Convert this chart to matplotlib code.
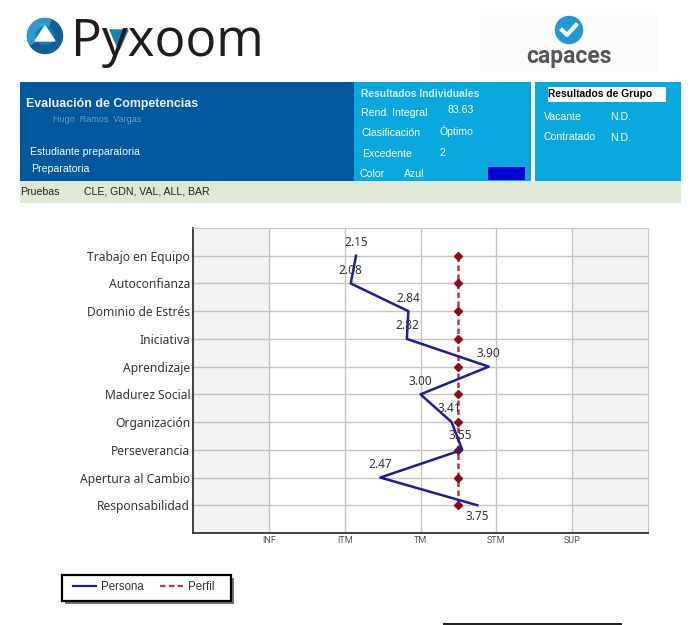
import matplotlib
matplotlib.use('Agg')
import matplotlib.pyplot as plt
from matplotlib.patches import Rectangle, Circle, Polygon, Wedge
from matplotlib.lines import Line2D

competencias = ['Trabajo en Equipo', 'Autoconfianza', 'Dominio de Estrés', 'Iniciativa', 'Aprendizaje',
                'Madurez Social', 'Organización', 'Perseverancia', 'Apertura al Cambio', 'Responsabilidad']
persona = [2.15, 2.08, 2.84, 2.82, 3.90, 3.00, 3.41, 3.55, 2.47, 3.75]
perfil = [3.5, 3.5, 3.5, 3.5, 3.5, 3.5, 3.5, 3.5, 3.5, 3.5]
niveles = ['INF', 'ITM', 'TM', 'STM', 'SUP']
niveles_pos = [1, 2, 3, 4, 5]

fig = plt.figure(figsize=(7, 6.25), dpi=100, facecolor='white')

#Everything around the chart is placed in pixels
page = fig.add_axes([0, 0, 1, 1])
page.set_xlim(0, 700)
page.set_ylim(625, 0)
page.axis('off')

def box(x0, y0, x1, y1, color, **kw):
    page.add_patch(Rectangle((x0, y0), x1 - x0, y1 - y0, facecolor=color, edgecolor='none', **kw))

def label(x, y, s, color='white', size=7.6, weight='normal', **kw):
    page.text(x, y + 1, s, color=color, fontsize=size, fontweight=weight, va='center',
              family='Liberation Sans', **kw)

#Pyxoom logo
page.add_patch(Circle((45, 36), 17.5, color='#0f5f96'))
page.add_patch(Wedge((45, 36), 17.5, 150, 290, color='#2c9ad0'))
page.add_patch(Circle((45, 36), 9, color='#1679b4'))
page.add_patch(Polygon([[45, 26], [55, 41], [35, 41]], color='white'))
page.text(71, 56, 'Pyxoom', fontsize=37, family='Open Sans', color='#1d1d20', va='baseline')
page.add_patch(Polygon([[110, 30], [128, 30], [119, 50]], color='#1c7fb4'))

#Capaces logo
box(480, 15, 658, 72, '#fbfbfb')
page.add_patch(Circle((569, 30), 13.5, color='#1f9ad6'))
page.plot([562, 567, 576], [30, 35, 25], color='white', lw=3)
page.text(569, 57, 'capaces', fontsize=16.5, fontweight='bold', family='Roboto', color='#55565a',
          ha='center', va='center')

#Header bands
box(20, 82, 354, 181, '#00589f')
box(354, 82, 531, 181, '#0ba8e0')
box(535, 82, 681, 181, '#0ba8e0')
box(20, 181, 681, 203, '#dfe8d5')
box(488, 167, 525, 180, '#0000d0')
box(548, 87, 666, 102, 'white')

label(26, 103, 'Evaluación de Competencias', size=8.9, weight='bold', color='#eef4fa')
label(53, 119, 'Hugo  Ramos  Vargas', size=6.5, color='#9dbcd9', alpha=0.7)
label(30, 151, 'Estudiante preparatoria')
label(31, 168, 'Preparatoria')
label(20, 191, 'Pruebas', color='#222222')
label(84, 191, 'CLE, GDN, VAL, ALL, BAR', color='#222222')

label(361, 93, 'Resultados Individuales', size=7.4, weight='bold', color='#d8f1fb')
label(361, 112, 'Rend. Integral')
label(447, 109, '83.63')
label(361, 132, 'Clasificación')
label(440, 130, 'Óptimo')
label(362, 153, 'Excedente')
label(439, 152, '2')
label(360, 173, 'Color')
label(404, 173, 'Azul')

label(548, 93, 'Resultados de Grupo', size=7.4, weight='bold', color='black')
label(544, 116, 'Vacante')
label(610, 116, 'N.D.')
label(544, 136, 'Contratado')
label(610, 137, 'N.D.')

#Sliver of the next box at the bottom edge
box(443, 623, 622, 625, '#222222')

#Main chart
ax = fig.add_axes([193 / 700, 1 - 533 / 625, 455 / 700, 305 / 625], zorder=2)
ax.set_xlim(0, 6)
ax.set_ylim(11, 0)
filas = list(range(1, len(competencias) + 1))
ax.axvspan(0, 1, color='#f2f2f2', zorder=0, lw=0)
ax.axvspan(5, 6, color='#f2f2f2', zorder=0, lw=0)
ax.set_xticks(niveles_pos)
ax.set_xticklabels(niveles, fontsize=6.5, color='#555555', family='Roboto')
ax.set_yticks(filas)
ax.set_yticklabels(competencias, fontsize=8.7, color='#333333', family='Noto Sans')
ax.tick_params(axis='x', length=0, pad=2)
ax.tick_params(axis='y', length=0, pad=2)
ax.grid(True, color='#c4c4c4', lw=1)
ax.set_axisbelow(True)
for s in ['top', 'right']:
    ax.spines[s].set_color('#c8c8c8')
for s in ['left', 'bottom']:
    ax.spines[s].set_color('#333333')
    ax.spines[s].set_linewidth(1.3)

ax.plot(perfil, filas, color='#c0323f', lw=1.8, ls=(0, (2.2, 1.4)), zorder=3)
ax.plot(perfil, filas, ls='none', marker='D', ms=3.6, color='#8b0a14', zorder=4)
ax.plot(persona, filas, color='#1c1c9c', lw=1.8, zorder=5)

#Offsets of the value labels, in pixels from each point
desp = [(0, -13), (0, -13), (0, -13), (0, -13), (0, -13), (0, -13), (-2, -14), (-2, -14), (0, -13), (0, 11)]
for v, f, d in zip(persona, filas, desp):
    ax.annotate('%.2f' % v, (v, f), xytext=(d[0] * 0.72, -d[1] * 0.72), textcoords='offset points',
                ha='center', va='center', fontsize=8.5, color='#333333', family='Noto Sans', zorder=6)

#Legend box is drawn by hand, the frame from legend() can't have uneven padding
box(65, 578, 234, 604, '#777777')
page.add_patch(Rectangle((62, 575), 169, 26, facecolor='white', edgecolor='black', lw=1.6))
handles = [Line2D([], [], color='#1c1c9c', lw=1.6), Line2D([], [], color='#c0323f', lw=1.6, ls=(0, (2.5, 1.5)))]
leg = fig.legend(handles, ['Persona', 'Perfil'], loc='center left', bbox_to_anchor=(73 / 700, 1 - 587 / 625),
                 borderaxespad=0, ncol=2, frameon=False, prop={'family': 'Liberation Sans', 'size': 8.3},
                 labelcolor='#333333', handlelength=2, handletextpad=0.43, columnspacing=1.4, borderpad=0)

fig.savefig('out.png', dpi=100)
